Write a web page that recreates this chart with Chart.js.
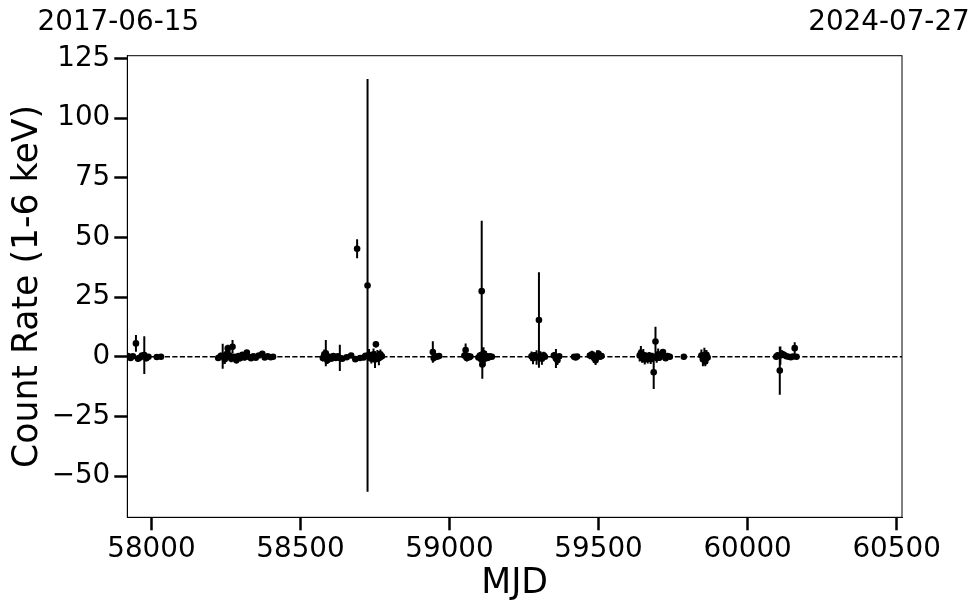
<!DOCTYPE html>
<html lang="en">
<head>
<meta charset="UTF-8">
<title>Count Rate vs MJD</title>
<script src="https://cdn.jsdelivr.net/npm/chart.js"></script>
<style>
    body { margin: 0; background: #fff; }
    #wrap { width: 980px; height: 613px; }
</style>
</head>
<body>
<div id="wrap"><canvas id="lc" width="980" height="613"></canvas></div>
<script>
// light curve points: MJD, count rate (1-6 keV) and 1-sigma error
const mjd = [
    57921, 57930, 57938, 57948, 57955, 57962, 57968, 57976, 57983, 57990, 58018, 58032,
    58224, 58232, 58239, 58246, 58251, 58256, 58262, 58268, 58272, 58278, 58285, 58292, 58298,
    58305, 58312, 58320, 58326, 58334, 58342, 58350, 58360, 58372, 58380, 58390, 58400, 58408,
    58575, 58580, 58585, 58590, 58596, 58603, 58610, 58618, 58625, 58632, 58640, 58655, 58670,
    58684, 58690, 58700, 58712, 58718, 58725, 58730, 58738, 58745, 58750, 58753, 58758, 58763,
    58768, 58773,
    58944, 58947, 58952, 58958, 58965,
    59050, 59054, 59058, 59062, 59066, 59070,
    59097, 59102, 59106, 59108, 59110, 59114, 59118, 59122, 59128, 59135, 59142,
    59275, 59280, 59286, 59292, 59300, 59305, 59310, 59316, 59320,
    59350, 59357, 59362, 59368,
    59418, 59423, 59428,
    59471, 59478, 59485, 59490, 59495, 59500, 59505, 59510,
    59638, 59642, 59646, 59650, 59655, 59660, 59665, 59670, 59675, 59680, 59685, 59691, 59695,
    59700, 59705, 59716, 59720, 59725, 59732, 59739,
    59786,
    59845, 59850, 59855, 59858, 59862, 59866,
    60096, 60100, 60108, 60110, 60115, 60122, 60130, 60138, 60145, 60152, 60158, 60164
];
const rate = [
    0.3, -0.5, 0.2, 5.6, -0.8, -0.3, 0.5, 0.7, -0.6, 0.0, -0.1, 0.0,
    -0.5, 0.3, 0.2, -1.0, 1.0, 3.5, 0.5, -0.8, 4.2, 0.0, -1.5, 0.3, -0.5,
    0.8, -0.3, 1.8, 0.0, -0.6, 0.2, -0.4, 0.5, 1.2, -0.3, 0.2, -0.2, 0.0,
    -0.5, 1.0, 1.5, -1.5, 0.0, -0.8, 0.3, -0.5, 0.2, -0.5, -0.8, -0.2, 0.5,
    -1.0, 45.3, -0.5, -0.3, 0.4, 29.9, 0.8, -0.8, 1.0, -1.2, 5.2, 0.3, -0.6,
    1.0, 0.2,
    2.0, -0.5, 0.2, 0.0, 0.3,
    0.5, 2.8, -0.5, 0.3, -0.2, 0.1,
    -0.3, 0.5, -1.0, 27.5, -3.2, 1.5, -0.8, 0.4, -0.5, 0.2, 0.0,
    0.2, -0.6, 0.5, -0.3, 15.4, 0.3, -0.8, 0.6, 0.0,
    0.5, -0.7, -1.5, 0.2,
    0.0, -0.3, 0.1,
    0.5, 1.0, -0.5, -1.5, 0.2, 1.2, 0.0, 0.3,
    0.5, 1.5, -0.5, 0.8, -1.2, 0.3, -0.8, 0.5, -1.0, 0.2, -6.5, 6.4, -0.5,
    1.0, -0.3, 2.0, 0.4, -0.6, 0.3, 0.0,
    0.0,
    0.5, -1.0, 0.3, -2.0, 0.8, -0.3,
    0.0, 0.5, -5.8, 0.5, 1.2, 0.8, 0.2, 0.0, -0.2, 0.1, 3.6, 0.0
];
const rateErr = [
    0.6, 1.0, 0.8, 3.5, 1.2, 0.9, 1.0, 7.9, 1.3, 0.6, 0.5, 0.5,
    1.2, 1.5, 5.2, 2.0, 1.5, 1.5, 2.0, 1.5, 2.8, 1.2, 1.2, 1.0, 1.5,
    1.0, 1.2, 1.0, 1.0, 1.0, 0.8, 1.0, 0.8, 1.0, 0.8, 0.8, 0.6, 0.6,
    1.5, 2.0, 5.5, 1.5, 1.2, 1.0, 1.0, 1.2, 1.0, 5.5, 1.0, 0.8, 1.0,
    1.0, 4.0, 1.0, 1.0, 1.2, 86.5, 2.5, 2.0, 2.5, 3.5, 1.2, 2.5, 3.0,
    2.0, 1.5,
    4.5, 1.5, 0.8, 0.8, 0.6,
    1.5, 2.8, 1.5, 1.0, 1.0, 0.8,
    1.2, 1.5, 2.0, 29.5, 6.0, 2.5, 3.0, 2.0, 1.2, 1.0, 0.8,
    2.0, 2.5, 1.5, 3.0, 20.0, 2.0, 2.5, 1.5, 1.0,
    1.5, 4.0, 2.0, 1.0,
    0.8, 1.0, 0.8,
    1.5, 1.5, 2.0, 2.0, 2.5, 1.5, 1.2, 0.8,
    2.5, 3.0, 2.0, 2.5, 2.0, 1.5, 2.0, 1.5, 2.0, 1.5, 7.0, 6.2, 2.0,
    2.5, 1.5, 1.2, 1.5, 1.2, 1.0, 0.8,
    1.0,
    2.5, 3.0, 3.5, 2.0, 2.0, 1.5,
    1.0, 1.5, 10.1, 3.8, 1.5, 1.0, 1.0, 0.8, 0.8, 0.8, 2.5, 0.8
];

const xTicks = [58000, 58500, 59000, 59500, 60000, 60500];
const yTicks = [-50, -25, 0, 25, 50, 75, 100, 125];
const dateLabels = ['2017-06-15', '2024-07-27'];
const xMin = 57919, xMax = 60518;
const yMin = -67.3, yMax = 126.2;

const FONT = 'DejaVu Sans';

// vertical error bar segments, broken by null gaps
const errSegments = [];
mjd.forEach((m, i) => {
    errSegments.push({x: m, y: rate[i] - rateErr[i]});
    errSegments.push({x: m, y: rate[i] + rateErr[i]});
    errSegments.push({x: m, y: null});
});

const framePlugin = {
    id: 'frame',
    afterDraw(chart) {
        const {ctx, chartArea: a} = chart;
        ctx.save();
        ctx.strokeStyle = '#000';
        ctx.lineWidth = 1;
        ctx.strokeRect(a.left, a.top, a.right - a.left, a.bottom - a.top);
        ctx.fillStyle = '#000';
        ctx.font = '27.8px "' + FONT + '"';
        ctx.textAlign = 'center';
        ctx.textBaseline = 'middle';
        ctx.fillText(dateLabels[0], a.left - 9, 23);
        ctx.fillText(dateLabels[1], a.right - 13, 23);
        ctx.restore();
    }
};

const axisCommon = {
    grid: { drawOnChartArea: false, drawTicks: true, tickLength: 13, tickWidth: 2.5, tickColor: '#000' },
    border: { display: true, color: '#000', width: 1 }
};

new Chart(document.getElementById('lc'), {
    type: 'line',
    data: {
        datasets: [
            {
                label: 'zero',
                data: [{x: xMin, y: 0}, {x: xMax, y: 0}],
                borderColor: '#000',
                borderWidth: 1.4,
                borderDash: [5.2, 2.3],
                pointRadius: 0,
                order: 3
            },
            {
                label: 'err',
                data: errSegments,
                borderColor: '#000',
                borderWidth: 2,
                pointRadius: 0,
                spanGaps: false,
                order: 2
            },
            {
                type: 'scatter',
                label: 'rate',
                data: mjd.map((m, i) => ({x: m, y: rate[i]})),
                backgroundColor: '#000',
                borderWidth: 0,
                pointRadius: 3.3,
                showLine: false,
                order: 1
            }
        ]
    },
    options: {
        responsive: false,
        animation: false,
        devicePixelRatio: 1,
        layout: { padding: { left: 0, top: 55.7, right: 78, bottom: 0 } },
        plugins: { legend: { display: false }, tooltip: { enabled: false } },
        events: [],
        scales: {
            x: {
                type: 'linear',
                min: xMin,
                max: xMax,
                afterBuildTicks: s => { s.ticks = xTicks.map(v => ({value: v})); },
                afterFit: s => { s.height = 95.7; },
                ticks: {
                    color: '#000', font: { family: FONT, size: 27.8 }, padding: 3,
                    maxRotation: 0, autoSkip: false, callback: v => String(v)
                },
                title: {
                    display: true, text: 'MJD', color: '#000',
                    font: { family: FONT, size: 34.67 }, padding: { top: 0, bottom: 8 }
                },
                ...axisCommon
            },
            y: {
                type: 'linear',
                min: yMin,
                max: yMax,
                afterBuildTicks: s => { s.ticks = yTicks.map(v => ({value: v})); },
                afterFit: s => { s.width = 127.3; },
                ticks: {
                    color: '#000', font: { family: FONT, size: 27.8 }, padding: 4,
                    autoSkip: false, callback: v => String(v).replace('-', '\u2212')
                },
                title: {
                    display: true, text: 'Count Rate (1-6 keV)', color: '#000',
                    font: { family: FONT, size: 34.67 }, padding: { top: 7, bottom: 0 }
                },
                ...axisCommon
            }
        }
    },
    plugins: [framePlugin]
});
</script>
</body>
</html>
